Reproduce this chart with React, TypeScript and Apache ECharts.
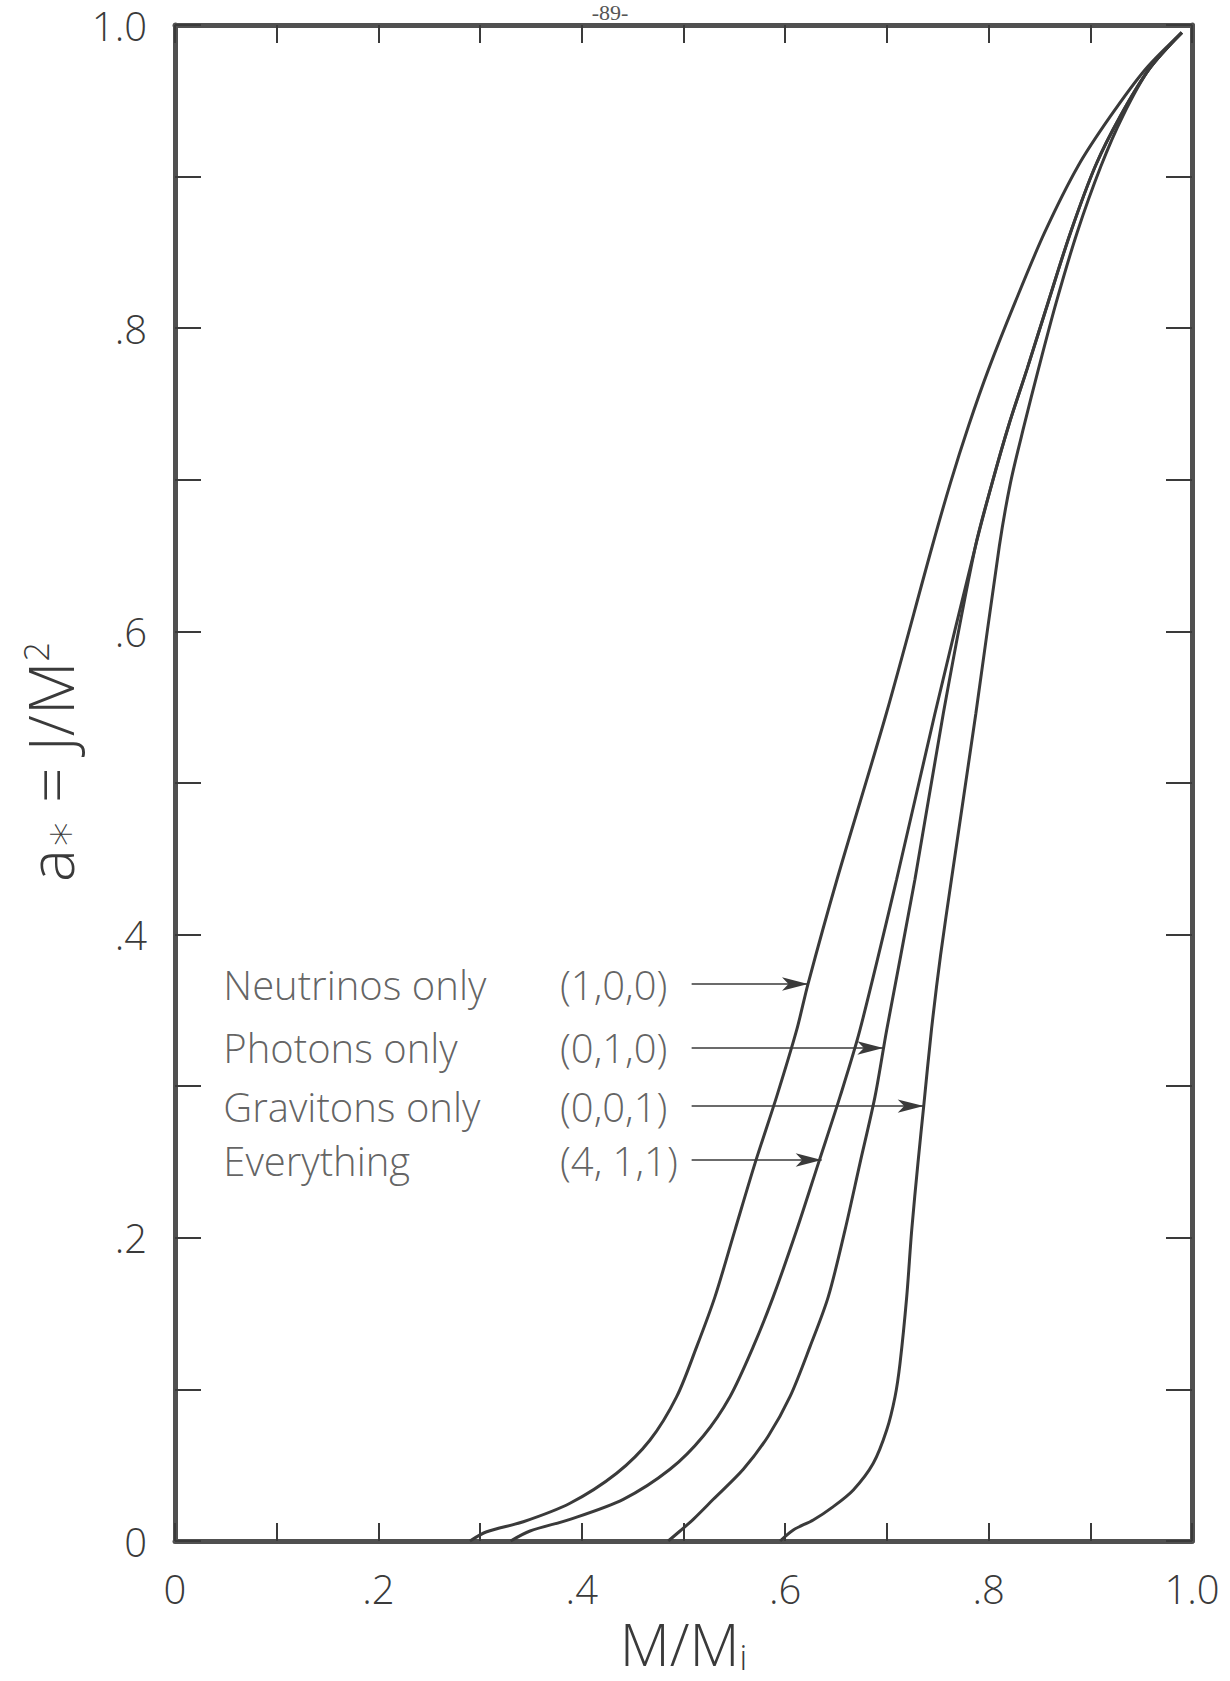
import React, { useEffect, useRef } from "react";
import * as echarts from "echarts";

// Tick labels (every other 0.1 tick is labelled)
const xTickLabels = ["0", ".2", ".4", ".6", ".8", "1.0"];
const yTickLabels = ["0", ".2", ".4", ".6", ".8", "1.0"];

// Curves: [M/Mi, a*]
const neutrinos: [number, number][] = [
  [0.29, 0], [0.3065, 0.0061], [0.3425, 0.0127], [0.3884, 0.0249], [0.4343, 0.0447],
  [0.4671, 0.0666], [0.4933, 0.0952], [0.513, 0.1282], [0.531, 0.1612], [0.5506, 0.2051],
  [0.5703, 0.2491], [0.5916, 0.2931], [0.6113, 0.3371], [0.6224, 0.3674], [0.651, 0.4365],
  [0.6995, 0.546], [0.7445, 0.656], [0.7625, 0.698], [0.7805, 0.736], [0.8, 0.773],
  [0.826, 0.817], [0.855, 0.863], [0.888, 0.907], [0.92, 0.94], [0.9545, 0.971], [0.99, 0.995],
];
const everything: [number, number][] = [
  [0.33, 0], [0.3491, 0.0066], [0.3884, 0.0143], [0.4408, 0.0275], [0.4867, 0.0473],
  [0.5195, 0.0693], [0.5457, 0.0952], [0.5686, 0.1282], [0.5883, 0.1612], [0.6113, 0.2051],
  [0.6326, 0.2491], [0.6539, 0.2931], [0.6735, 0.3371], [0.7096, 0.4365], [0.7473, 0.546],
  [0.787, 0.656], [0.8035, 0.698], [0.8198, 0.736], [0.8378, 0.773], [0.8585, 0.817],
  [0.8805, 0.863], [0.905, 0.907], [0.9296, 0.94], [0.958, 0.971], [0.99, 0.995],
];
const photons: [number, number][] = [
  [0.485, 0], [0.4966, 0.0066], [0.5096, 0.0143], [0.5293, 0.0275], [0.5588, 0.0473],
  [0.5834, 0.0693], [0.6047, 0.0952], [0.6244, 0.1282], [0.6424, 0.1612], [0.6588, 0.2051],
  [0.6735, 0.2491], [0.6883, 0.2931], [0.6998, 0.3371], [0.7276, 0.4365], [0.7555, 0.546],
  [0.787, 0.656], [0.8035, 0.698], [0.8198, 0.736], [0.8378, 0.773], [0.8585, 0.817],
  [0.8805, 0.863], [0.905, 0.907], [0.9296, 0.94], [0.958, 0.971], [0.99, 0.995],
];
const gravitons: [number, number][] = [
  [0.595, 0], [0.608, 0.0073], [0.6276, 0.0139], [0.6473, 0.0227], [0.667, 0.0337],
  [0.6866, 0.0513], [0.6998, 0.0732], [0.708, 0.0952], [0.7129, 0.1172], [0.7195, 0.1612],
  [0.7244, 0.2051], [0.7305, 0.2491], [0.7362, 0.2869], [0.7438, 0.3371], [0.7528, 0.3865],
  [0.7635, 0.4365], [0.7875, 0.546], [0.8105, 0.656], [0.8215, 0.698], [0.835, 0.736],
  [0.849, 0.773], [0.8665, 0.817], [0.887, 0.863], [0.9105, 0.907], [0.932, 0.94],
  [0.958, 0.971], [0.99, 0.995],
];

// Annotation rows
const rowNames = ["Neutrinos only", "Photons only", "Gravitons only", "Everything"];
const rowTuples = ["(1,0,0)", "(0,1,0)", "(0,0,1)", "(4, 1,1)"];
const rowLevels = [0.3674, 0.3252, 0.2869, 0.2513];
const arrowTargets = [0.6224, 0.6965, 0.7362, 0.6359];

const FONT = "'Open Sans', Lato, 'DejaVu Sans', sans-serif";
const INK = "#3a3a3a";
const FRAME = "#505050";

const NAME_X = 0.047;
const TUPLE_X = 0.378;
const ARROW_START_X = 0.508;

function tickFormatter(labels: string[]) {
  return (v: number) => {
    const k = Math.round(v * 10);
    return k % 2 === 0 ? labels[k / 2] : "";
  };
}

export default function App() {
  const ref = useRef<HTMLDivElement>(null);

  useEffect(() => {
    const chart = echarts.init(ref.current!, null, { renderer: "svg" });

    const axisLine = { show: true, onZero: false, lineStyle: { color: FRAME, width: 5 } };
    const labelStyle = { fontSize: 40, lineHeight: 42, fontFamily: FONT, fontWeight: 300 as any, color: INK };

    const curveSeries = (name: string, data: [number, number][]) => ({
      name,
      type: "line",
      data,
      showSymbol: false,
      symbol: "none",
      smooth: 0.3,
      lineStyle: { color: INK, width: 3 },
      z: 3,
    });

    const annotationLabel = {
      show: true,
      position: "right",
      distance: 0,
      formatter: (p: any) => p.data[2],
      fontSize: 40,
      fontFamily: FONT,
      fontWeight: 300,
      color: INK,
    };

    const option: any = {
      animation: false,
      backgroundColor: "#ffffff",
      grid: { left: 175, right: 38, top: 25, bottom: 140, containLabel: false },
      xAxis: [
        {
          type: "value",
          position: "bottom",
          min: 0,
          max: 1,
          interval: 0.1,
          axisLine,
          axisTick: { show: true, inside: true, length: 18, lineStyle: { color: INK, width: 2 } },
          axisLabel: { ...labelStyle, margin: 26, showMinLabel: true, showMaxLabel: true, formatter: tickFormatter(xTickLabels) },
          splitLine: { show: false },
          name: "M/M{s|i}",
          nameLocation: "middle",
          nameGap: 66,
          nameTextStyle: {
            fontSize: 58,
            lineHeight: 60,
            fontFamily: FONT,
            fontWeight: 300,
            color: INK,
            rich: { s: { fontSize: 34, lineHeight: 38, fontFamily: FONT, fontWeight: 300, color: INK, verticalAlign: "bottom" } },
          },
        },
        {
          type: "value",
          position: "top",
          min: 0,
          max: 1,
          interval: 0.1,
          axisLine,
          axisTick: { show: true, inside: true, length: 18, lineStyle: { color: INK, width: 2 } },
          axisLabel: { show: false },
          splitLine: { show: false },
        },
      ],
      yAxis: [
        {
          type: "value",
          position: "left",
          min: 0,
          max: 1,
          interval: 0.1,
          axisLine,
          axisTick: { show: true, inside: true, length: 26, lineStyle: { color: INK, width: 2 } },
          axisLabel: { ...labelStyle, margin: 28, showMinLabel: true, showMaxLabel: true, formatter: tickFormatter(yTickLabels) },
          splitLine: { show: false },
        },
        {
          type: "value",
          position: "right",
          min: 0,
          max: 1,
          interval: 0.1,
          axisLine,
          axisTick: { show: true, inside: true, length: 26, lineStyle: { color: INK, width: 2 } },
          axisLabel: { show: false },
          splitLine: { show: false },
        },
      ],
      series: [
        curveSeries("Neutrinos only", neutrinos),
        curveSeries("Everything", everything),
        curveSeries("Photons only", photons),
        curveSeries("Gravitons only", gravitons),
        {
          name: "arrows",
          type: "line",
          data: [],
          markLine: {
            silent: true,
            animation: false,
            symbol: ["none", "arrow"],
            symbolSize: [10, 26],
            lineStyle: { color: INK, width: 1.6, type: "solid" },
            label: { show: false },
            data: rowLevels.map((a, i) => [
              { coord: [ARROW_START_X, a] },
              { coord: [arrowTargets[i], a] },
            ]),
          },
        },
        {
          name: "rowNames",
          type: "scatter",
          symbolSize: 1,
          itemStyle: { color: "transparent" },
          silent: true,
          data: rowLevels.map((a, i) => [NAME_X, a, rowNames[i]]),
          label: annotationLabel,
        },
        {
          name: "rowTuples",
          type: "scatter",
          symbolSize: 1,
          itemStyle: { color: "transparent" },
          silent: true,
          data: rowLevels.map((a, i) => [TUPLE_X, a, rowTuples[i]]),
          label: annotationLabel,
        },
      ],
      graphic: [
        {
          type: "text",
          x: 50,
          y: 762,
          rotation: Math.PI / 2,
          style: {
            text: "a{s|∗} = J/M{p|2}",
            font: `300 62px ${FONT}`,
            fill: INK,
            align: "center",
            verticalAlign: "middle",
            rich: {
              s: { fontSize: 48, fontFamily: FONT, fontWeight: 300, fill: INK, verticalAlign: "bottom" },
              p: { fontSize: 34, fontFamily: FONT, fontWeight: 300, fill: INK, verticalAlign: "top" },
            },
          },
        },
        {
          type: "text",
          x: 610,
          y: 12,
          style: {
            text: "-89-",
            font: "22px 'Liberation Serif', serif",
            fill: "#555",
            align: "center",
            verticalAlign: "middle",
          },
        },
      ],
    };

    chart.setOption(option);
    return () => chart.dispose();
  }, []);

  return (
    <div
      ref={ref}
      style={{ position: "absolute", left: 0, top: 0, width: 1230, height: 1681, background: "#fff" }}
    />
  );
}
